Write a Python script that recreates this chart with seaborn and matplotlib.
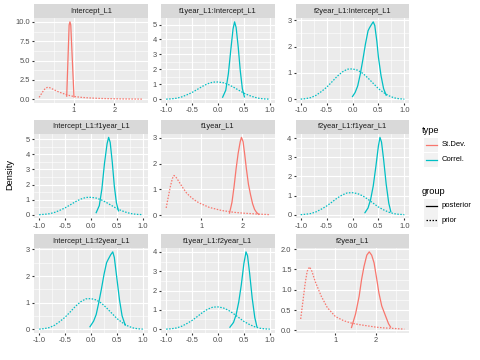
import numpy as np
import pandas as pd
import matplotlib
matplotlib.use("Agg")
import matplotlib.pyplot as plt
from matplotlib.lines import Line2D
from matplotlib.patches import Rectangle
from matplotlib.ticker import FixedLocator, MultipleLocator, FormatStrFormatter
import seaborn as sns

# ---------------- data ----------------
panel_titles = ["Intercept_L1", "f1year_L1:Intercept_L1", "f2year_L1:Intercept_L1",
                "Intercept_L1:f1year_L1", "f1year_L1", "f2year_L1:f1year_L1",
                "Intercept_L1:f2year_L1", "f1year_L1:f2year_L1", "f2year_L1"]
panel_types = ["St.Dev.", "Correl.", "Correl.",
               "Correl.", "St.Dev.", "Correl.",
               "Correl.", "Correl.", "St.Dev."]

# shared prior for correlations
corr_prior_x = [-1.0, -0.9, -0.8, -0.7, -0.6, -0.5, -0.4, -0.3, -0.2, -0.1, 0.0,
                0.1, 0.2, 0.3, 0.4, 0.5, 0.6, 0.7, 0.8, 0.9, 1.0]
corr_prior_y = [0.0, 0.02, 0.06, 0.15, 0.29, 0.45, 0.65, 0.86, 1.03, 1.14, 1.15,
                1.10, 0.98, 0.80, 0.60, 0.40, 0.25, 0.13, 0.05, 0.015, 0.0]

# priors for standard deviations
sd1_prior_x = [0.14, 0.2, 0.25, 0.3, 0.35, 0.4, 0.5, 0.6, 0.7, 0.8, 0.9, 1.0,
               1.2, 1.4, 1.6, 1.8, 2.0, 2.2, 2.4, 2.6, 2.7]
sd1_prior_y = [0.25, 0.75, 1.15, 1.45, 1.55, 1.5, 1.25, 1.0, 0.8, 0.62, 0.47, 0.36,
               0.24, 0.17, 0.12, 0.09, 0.07, 0.05, 0.04, 0.03, 0.02]
sd2_prior_x = [0.15, 0.2, 0.25, 0.3, 0.34, 0.4, 0.5, 0.56, 0.65, 0.77, 0.9, 1.0,
               1.2, 1.5, 1.8, 2.0, 2.2, 2.4, 2.67]
sd2_prior_y = [0.28, 0.7, 1.1, 1.42, 1.54, 1.45, 1.2, 1.05, 0.85, 0.67, 0.52, 0.44,
               0.3, 0.18, 0.11, 0.08, 0.06, 0.04, 0.02]
sd3_prior_x = [0.14, 0.2, 0.25, 0.3, 0.36, 0.42, 0.5, 0.65, 0.8, 1.0, 1.2, 1.39,
               1.6, 1.8, 2.0, 2.2, 2.4, 2.71]
sd3_prior_y = [0.28, 0.75, 1.15, 1.45, 1.56, 1.45, 1.2, 0.84, 0.56, 0.34, 0.24, 0.18,
               0.14, 0.11, 0.08, 0.06, 0.05, 0.03]

# posteriors
post1_x = [0.82, 0.88, 0.90, 0.92, 1.0]
post1_y = [0.4, 9.6, 10.0, 9.6, 0.3]
post2_x = [0.09, 0.15, 0.2, 0.25, 0.29, 0.32, 0.35, 0.39, 0.43, 0.47, 0.51]
post2_y = [0.13, 0.6, 1.7, 3.4, 4.7, 5.18, 4.8, 3.5, 1.9, 0.7, 0.15]
post3_x = [0.0, 0.05, 0.1, 0.15, 0.2, 0.25, 0.3, 0.33, 0.37, 0.40, 0.43, 0.47, 0.5,
           0.55, 0.6, 0.65]
post3_y = [0.1, 0.25, 0.5, 0.95, 1.5, 2.1, 2.6, 2.72, 2.85, 2.94, 2.8, 2.2, 1.6,
           0.9, 0.4, 0.15]
post4_x = [0.10, 0.16, 0.21, 0.26, 0.31, 0.34, 0.37, 0.41, 0.45, 0.49, 0.53]
post4_y = [0.13, 0.6, 1.7, 3.4, 4.7, 5.13, 4.8, 3.5, 1.9, 0.8, 0.25]
post5_x = [1.69, 1.75, 1.8, 1.85, 1.9, 1.95, 1.98, 2.02, 2.06, 2.1, 2.15, 2.2, 2.25,
           2.3, 2.35, 2.4]
post5_y = [0.08, 0.5, 1.1, 1.8, 2.4, 2.85, 3.02, 2.85, 2.35, 1.8, 1.2, 0.8, 0.45,
           0.22, 0.1, 0.03]
post6_x = [0.24, 0.3, 0.35, 0.4, 0.45, 0.5, 0.53, 0.56, 0.6, 0.65, 0.7, 0.74]
post6_y = [0.1, 0.35, 0.8, 1.5, 2.5, 3.6, 4.05, 3.8, 2.9, 1.6, 0.6, 0.15]
post7_x = [-0.02, 0.05, 0.1, 0.15, 0.2, 0.25, 0.3, 0.33, 0.38, 0.42, 0.45, 0.5,
           0.55, 0.6, 0.66]
post7_y = [0.09, 0.3, 0.55, 1.0, 1.5, 2.05, 2.5, 2.62, 2.8, 2.91, 2.7, 1.9, 1.1,
           0.5, 0.15]
post8_x = [0.23, 0.3, 0.35, 0.4, 0.45, 0.5, 0.54, 0.57, 0.61, 0.66, 0.71, 0.75]
post8_y = [0.1, 0.35, 0.75, 1.4, 2.3, 3.4, 4.0, 3.8, 2.9, 1.6, 0.6, 0.14]
post9_x = [1.40, 1.5, 1.59, 1.65, 1.71, 1.78, 1.84, 1.9, 1.96, 2.02, 2.08, 2.15,
           2.25, 2.32, 2.37]
post9_y = [0.07, 0.4, 0.84, 1.25, 1.57, 1.85, 1.93, 1.85, 1.66, 1.3, 0.92, 0.6,
           0.34, 0.16, 0.08]

posteriors = [(post1_x, post1_y), (post2_x, post2_y), (post3_x, post3_y),
              (post4_x, post4_y), (post5_x, post5_y), (post6_x, post6_y),
              (post7_x, post7_y), (post8_x, post8_y), (post9_x, post9_y)]
priors = [(sd1_prior_x, sd1_prior_y), (corr_prior_x, corr_prior_y), (corr_prior_x, corr_prior_y),
          (corr_prior_x, corr_prior_y), (sd2_prior_x, sd2_prior_y), (corr_prior_x, corr_prior_y),
          (corr_prior_x, corr_prior_y), (corr_prior_x, corr_prior_y), (sd3_prior_x, sd3_prior_y)]

# axis breaks per panel
sd_x_breaks = [1, 2]
corr_x_breaks = [-1.0, -0.5, 0.0, 0.5, 1.0]
y_breaks = [[0.0, 2.5, 5.0, 7.5, 10.0], [0, 1, 2, 3, 4, 5], [0, 1, 2, 3],
            [0, 1, 2, 3, 4, 5], [0, 1, 2, 3], [0, 1, 2, 3, 4],
            [0, 1, 2, 3], [0, 1, 2, 3, 4], [0.0, 0.5, 1.0, 1.5, 2.0]]
y_decimals = [1, 0, 0, 0, 0, 0, 0, 0, 1]

type_levels = ["St.Dev.", "Correl."]
group_levels = ["posterior", "prior"]
palette = {"St.Dev.": "#F8766D", "Correl.": "#00BFC4"}

rows = []
for i, (title, typ) in enumerate(zip(panel_titles, panel_types)):
    for grp, (xs, ys) in (("posterior", posteriors[i]), ("prior", priors[i])):
        for x, y in zip(xs, ys):
            rows.append({"panel": title, "type": typ, "group": grp, "x": x, "y": y})
df = pd.DataFrame(rows)

# ---------------- figure ----------------
plt.rcParams["font.family"] = ["Liberation Sans", "DejaVu Sans"]
W, H = 480, 360
fig = plt.figure(figsize=(4.8, 3.6), dpi=100)
fig.patch.set_facecolor("white")

col_left = [34, 161, 295.5]
row_top = [18, 133.5, 248]
pw, ph, sh = 114, 85, 14

prior_dash = (1.2, 1.2)
lw = 0.9

for i, title in enumerate(panel_titles):
    r, c = divmod(i, 3)
    l, t = col_left[c], row_top[r]
    ax = fig.add_axes([l / W, 1 - (t + ph) / H, pw / W, ph / H])
    sax = fig.add_axes([l / W, 1 - t / H, pw / W, sh / H])
    sax.set_facecolor("#D9D9D9")
    sax.set_xticks([]); sax.set_yticks([])
    for s in sax.spines.values():
        s.set_visible(False)
    sax.text(0.5, 0.47, title, ha="center", va="center", fontsize=5.4,
             color="#1A1A1A", transform=sax.transAxes)

    sub = df[df["panel"] == title]
    for grp in group_levels:
        g = sub[sub["group"] == grp]
        sns.lineplot(data=g, x="x", y="y", hue="type", palette=palette,
                     estimator=None, sort=False, legend=False, ax=ax,
                     linewidth=lw, dashes=False)
        if grp == "prior":
            ax.lines[-1].set_dashes(prior_dash)
    ax.set_facecolor("#EBEBEB")
    for s in ax.spines.values():
        s.set_visible(False)
    ax.margins(x=0.05, y=0.05)
    ax.set_xlabel(""); ax.set_ylabel("")

    xb = sd_x_breaks if panel_types[i] == "St.Dev." else corr_x_breaks
    ax.xaxis.set_major_locator(FixedLocator(xb))
    xstep = xb[1] - xb[0]
    ax.xaxis.set_minor_locator(MultipleLocator(xstep / 2))
    ax.xaxis.set_major_formatter(FormatStrFormatter("%d" if panel_types[i] == "St.Dev." else "%.1f"))
    yb = y_breaks[i]
    ax.yaxis.set_major_locator(FixedLocator(yb))
    ax.yaxis.set_minor_locator(MultipleLocator((yb[1] - yb[0]) / 2))
    ax.yaxis.set_major_formatter(FormatStrFormatter("%.1f" if y_decimals[i] else "%d"))

    ax.grid(True, which="major", color="white", linewidth=0.85)
    ax.grid(True, which="minor", color="white", linewidth=0.42)
    ax.set_axisbelow(True)
    ax.tick_params(which="major", length=1.7, width=0.8, color="#333333",
                   labelsize=5.4, labelcolor="#4D4D4D", pad=1.2)
    ax.tick_params(which="minor", length=0)

fig.text(10 / W, 1 - 174 / H, "Density", rotation=90, ha="center", va="center",
         fontsize=6.7, color="black")

# ---------------- legend ----------------
def legend_block(title, y_title, entries):
    fig.text(422 / W, 1 - y_title / H, title, ha="left", va="center", fontsize=6.7)
    for label, y, color, dashed in entries:
        fig.add_artist(Rectangle((424 / W, 1 - (y + 7) / H), 14 / W, 14 / H,
                                 transform=fig.transFigure, facecolor="#F2F2F2",
                                 edgecolor="none"))
        ln = Line2D([425.5 / W, 436.5 / W], [1 - y / H, 1 - y / H],
                    transform=fig.transFigure, color=color, linewidth=lw)
        if dashed:
            ln.set_dashes(prior_dash)
        fig.add_artist(ln)
        fig.text(442 / W, 1 - y / H, label, ha="left", va="center", fontsize=5.5)

legend_block("type", 130, [(type_levels[0], 145, palette["St.Dev."], False),
                           (type_levels[1], 159.5, palette["Correl."], False)])
legend_block("group", 191, [(group_levels[0], 205.5, "black", False),
                            (group_levels[1], 220, "black", True)])

fig.savefig("out.png", dpi=100)
